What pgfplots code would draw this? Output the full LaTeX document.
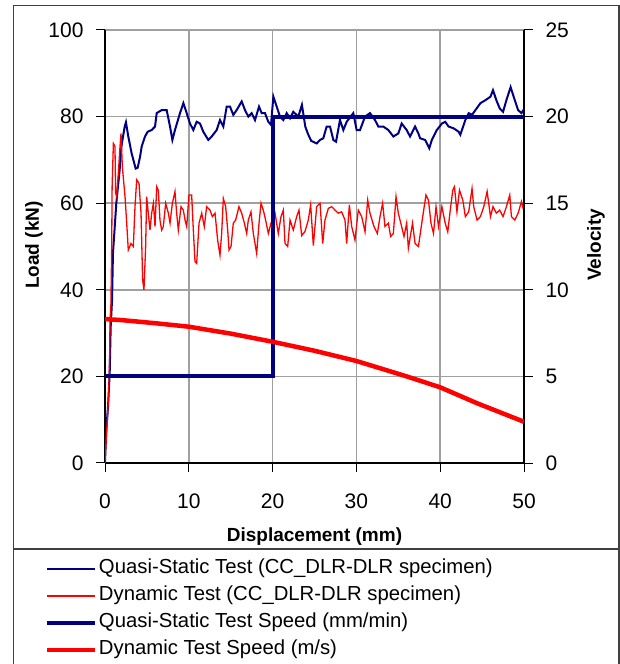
\documentclass[border=0pt]{standalone}
\usepackage{fontspec}
\setmainfont{Liberation Sans}
\usepackage{pgfplots}
\pgfplotsset{compat=1.18}
\definecolor{Navy}{HTML}{000080}
\definecolor{FrameGray}{HTML}{404040}
\definecolor{GridGray}{HTML}{A0A0A0}

\pgfplotsset{
  xlsaxis/.style={
    scale only axis, width=419pt, height=433pt,
    at={(105pt,201pt)}, anchor=south west,
    xmin=0, xmax=50,
    tick align=outside, major tick length=9pt,
    tick style={black, line width=1pt},
    axis line style={black, line width=1.2pt},
    ticklabel style={font=\fontsize{21}{25}\selectfont},
    label style={font=\bfseries\fontsize{19}{23}\selectfont},
    /pgf/number format/assume math mode=true,
  }
}

\begin{document}
\begin{tikzpicture}[x=1pt,y=1pt]
\useasboundingbox (0,0) rectangle (620,664);
\draw[FrameGray, line width=1.3pt] (13.7,-2) -- (13.7,658.7) -- (619,658.7) -- (619,-2);
\draw[FrameGray, line width=1.3pt] (13.7,115) -- (619,115);

\begin{axis}[xlsaxis,
  ymin=0, ymax=100, ytick={0,20,...,100}, xtick={0,10,...,50},
  axis x line*=bottom, axis y line*=left,
  grid=major, major grid style={GridGray, line width=1.5pt},
  yticklabel style={xshift=-9pt},
  xticklabel style={yshift=-18pt},
  xlabel={Displacement (mm)}, ylabel={Load (kN)},
  xlabel style={at={(axis description cs:0.5,-0.171)}, anchor=center},
  ylabel style={at={(axis description cs:-0.1695,0.5035)}, anchor=center, rotate=0},
]
\addplot[Navy, line width=2pt] coordinates {
(0,0)(0.04,2.2)(0.16,7.9)(0.36,13)(0.56,20.7)(0.68,31.5)(0.84,37.6)(0.95,48.4)(1.35,60)(1.75,67.7)(1.95,73)(2.35,77.7)(2.5,78.7)
(2.78,75.4)(3.18,71.5)(3.66,68.0)(3.9,68.2)(4.18,70.7)(4.38,73.1)(4.77,75.4)(5.09,76.5)(5.57,76.9)(5.97,77.7)(6.17,80.8)(6.76,81.5)
(7.36,81.5)(7.76,77.7)(8.04,74.6)(8.35,76.9)(8.95,80.8)(9.35,83.1)(9.75,80.8)(10.14,78.4)(10.54,76.9)(10.94,78.8)(11.34,78.4)
(11.73,76.5)(12.33,74.6)(12.73,75.4)(13.33,76.9)(13.72,79.2)(14.12,77.7)(14.52,82.3)(14.92,82.3)(15.31,80.4)(15.71,81.5)(16.31,83.5)
(16.71,81.5)(17.10,80.0)(17.50,80.8)(17.9,79.2)(18.38,82.3)(18.70,80.8)(19.09,80.8)(19.49,78.8)(19.81,78.1)(20.09,84.6)(20.49,82.3)
(20.88,80.0)(21.28,79.2)(21.68,80.8)(22.08,79.6)(22.47,81.1)(23.07,80.0)(23.5,82.7)(23.9,77.7)(24.2,76.1)(24.6,74.4)(25.26,73.8)
(25.66,74.6)(26.05,75.0)(26.45,77.7)(26.85,77.7)(27.25,74.6)(27.57,74.2)(28.04,79.2)(28.44,76.9)(28.84,78.8)(29.63,80.8)(30.03,76.9)
(30.43,76.9)(31.03,80.0)(31.62,80.8)(32.22,79.2)(32.62,77.7)(33.21,77.7)(33.81,76.9)(34.41,75.4)(35.0,76.1)(35.4,78.4)(36.0,76.9)
(36.4,75.4)(37.0,77.7)(37.4,76.1)(37.6,75.0)(38.2,74.6)(38.7,72.7)(39.0,74.6)(39.6,76.9)(40.2,78.4)(40.6,78.8)(41.0,77.7)(41.6,77.3)
(42.2,76.5)(42.4,75.8)(43.0,79.2)(43.4,80.8)(43.8,80.4)(44.2,81.5)(44.8,83.1)(45.4,83.8)(46.0,84.6)(46.3,86.1)(46.7,83.8)(47.1,81.9)
(47.5,81.1)(47.9,83.8)(48.4,86.8)(48.9,83.8)(49.3,81.5)(49.7,80.8)(50.0,81.7)
};
\addplot[red, line width=1.3pt] coordinates {
(0,0)(0.04,2.2)(0.28,9.9)(0.44,16.1)(0.56,25.3)(0.6,33.4)(0.7,36)(0.8,50)(0.85,63.8)(1.0,73.8)(1.19,73.1)(1.27,62.3)(1.39,61.5)
(1.59,66.9)(1.79,73.1)(1.91,76.1)(2.07,68.4)(2.39,61.5)(2.59,55.4)(2.78,49.2)(3.10,50.7)(3.38,50.0)(3.58,59.2)(3.78,65.4)(4.06,64.6)
(4.30,57.7)(4.49,42.3)(4.65,40.0)(4.85,50.0)(4.97,61.5)(5.09,59.2)(5.37,53.8)(5.57,57.7)(5.77,60.0)(5.97,54.6)(6.17,63.8)(6.36,63.0)
(6.56,56.1)(6.76,53.8)(6.96,54.6)(7.24,60.0)(7.56,57.7)(7.76,55.4)(8.04,60.0)(8.35,62.7)(8.55,57.7)(8.75,53.8)(9.07,59.2)(9.35,58.4)
(9.55,56.1)(9.75,54.6)(10.02,61.9)(10.34,61.9)(10.54,53.8)(10.74,46.5)(10.94,46.1)(11.22,55.4)(11.54,57.7)(11.85,54.6)(12.13,59.2)
(12.53,58.4)(12.81,56.9)(13.13,57.7)(13.44,51.5)(13.72,48.0)(13.92,53.0)(14.12,61.1)(14.40,59.2)(14.64,53.8)(14.80,49.2)(15.04,50.0)
(15.31,55.4)(15.59,56.1)(15.99,59.2)(16.31,57.7)(16.63,55.4)(16.91,53.0)(17.10,56.1)(17.42,58.0)(17.70,53.0)(18.10,48.4)(18.38,55.4)
(18.62,60.0)(18.89,58.4)(19.17,56.1)(19.49,53.0)(19.81,55.4)(20.29,57.7)(20.68,53.0)(21.0,56.9)(21.28,58.4)(21.48,50.7)(21.80,50.0)
(22.08,56.1)(22.47,53.8)(22.87,56.9)(23.15,58.4)(23.47,52.5)(23.87,53.5)(24.26,56.1)(24.54,59.6)(24.86,50.2)(25.26,59.2)(25.66,60.0)
(25.98,50.7)(26.25,56.1)(26.65,58.8)(27.05,59.2)(27.45,58.4)(27.84,57.7)(28.24,58.0)(28.64,56.1)(28.84,50.7)(29.16,59.6)(29.44,54.6)
(29.83,51.5)(30.23,58.4)(30.63,56.9)(31.03,53.4)(31.35,60.7)(31.62,57.7)(32.10,54.6)(32.50,53.0)(32.82,56.9)(33.13,60.0)(33.41,54.6)
(33.81,55.4)(34.09,52.3)(34.41,53.0)(34.73,61.5)(35.0,57.7)(35.4,54.6)(35.68,52.3)(36.0,55.4)(36.2,49.6)(36.7,55.4)(37.0,50.7)
(37.4,50.0)(37.8,55.4)(38.3,61.9)(38.6,60.7)(38.9,55.4)(39.2,53.0)(39.5,59.2)(39.8,54.6)(40.2,59.2)(40.6,55.4)(40.9,53.4)(41.2,58.4)
(41.5,63.0)(41.7,63.8)(42.0,58.0)(42.3,63.0)(42.7,60.7)(43.0,56.9)(43.4,58.0)(43.8,63.4)(44.0,59.2)(44.4,56.1)(44.8,56.9)(45.2,59.2)
(45.6,62.7)(46.0,56.9)(46.3,59.2)(46.7,57.7)(47.1,58.4)(47.5,56.9)(47.9,59.2)(48.3,61.9)(48.5,56.9)(48.9,56.1)(49.3,57.7)(49.7,60.4)
(50.0,58.0)
};
\end{axis}

\begin{axis}[xlsaxis,
  ymin=0, ymax=25, ytick={0,5,...,25},
  axis x line=none, axis y line*=right,
  yticklabel style={xshift=9pt},
  ylabel={Velocity},
  ylabel style={at={(axis description cs:1.1718,0.5035)}, anchor=center, rotate=0},
  legend style={draw=none, fill=none, inner sep=0pt, outer sep=0pt,
    at={(axis description cs:-0.1432,-0.2217)}, anchor=north west,
    font=\fontsize{20.3}{24}\selectfont, row sep=7pt,
    nodes={inner sep=0pt, text height=15pt, text depth=5pt}},
  legend cell align=left,
  legend image code/.code={\draw[#1] (0pt,0pt) -- (48pt,0pt);},
  /tikz/every odd column/.append style={column sep=1.5pt},
]
\addlegendimage{Navy, line width=1.5pt}
\addlegendentry{Quasi-Static Test (CC\_DLR-DLR specimen)}
\addlegendimage{red, line width=1.3pt}
\addlegendentry{Dynamic Test (CC\_DLR-DLR specimen)}
\addplot[Navy, line width=4pt] coordinates {(0,5)(20,5)(20,20)(50,20)};
\addlegendentry{Quasi-Static Test Speed (mm/min)}
\addplot[red, line width=4.5pt] coordinates {
(0,8.31)(2,8.25)(6,8.07)(10,7.87)(15,7.47)(20,7.0)(25,6.48)(30,5.89)(36,5.0)(40,4.37)(44.4,3.45)(50,2.38)};
\addlegendentry{Dynamic Test Speed (m/s)}
\end{axis}
\end{tikzpicture}
\end{document}
